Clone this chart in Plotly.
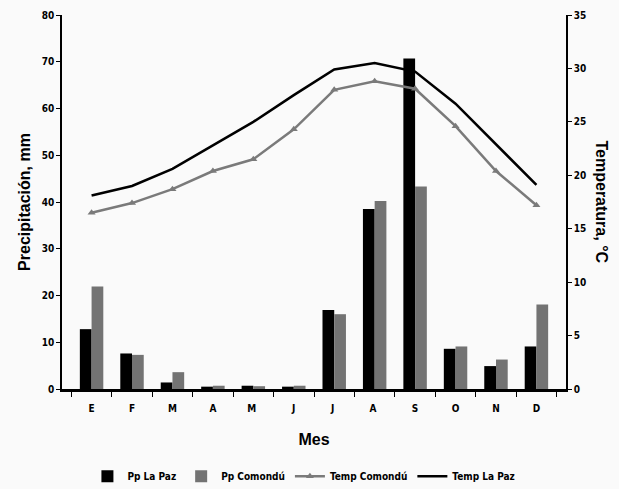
import plotly.graph_objects as go

months = ["E", "F", "M", "A", "M ", "J", "J ", "A ", "S", "O", "N", "D"]
pp_lapaz = [12.8, 7.6, 1.4, 0.5, 0.7, 0.5, 16.9, 38.5, 70.7, 8.6, 4.9, 9.1]
pp_comondu = [21.9, 7.3, 3.6, 0.7, 0.6, 0.7, 16.0, 40.2, 43.3, 9.1, 6.3, 18.1]
temp_comondu = [16.5, 17.4, 18.7, 20.4, 21.5, 24.3, 28.0, 28.8, 28.1, 24.6, 20.4, 17.2]
temp_lapaz = [18.1, 19.0, 20.6, 22.8, 25.0, 27.5, 29.9, 30.5, 29.7, 26.7, 22.9, 19.1]

narrow = "DejaVu Sans Condensed, Liberation Sans Narrow, Arial Narrow, Arial, sans-serif"
wide = "Liberation Sans, Arial, sans-serif"
tickf = dict(family=narrow, size=10, color="#000", weight="bold")

fig = go.Figure()
fig.add_trace(go.Bar(x=months, y=pp_lapaz, name="Pp La Paz", marker_color="#000000", yaxis="y"))
fig.add_trace(go.Bar(x=months, y=pp_comondu, name="Pp Comondú", marker_color="#737373", yaxis="y"))
fig.add_trace(go.Scatter(x=months, y=temp_comondu, name="Temp Comondú", mode="lines+markers",
                         line=dict(color="#7a7a7a", width=2.5),
                         marker=dict(symbol="triangle-up", size=7, color="#7a7a7a"), yaxis="y2"))
fig.add_trace(go.Scatter(x=months, y=temp_lapaz, name="Temp La Paz", mode="lines",
                         line=dict(color="#000000", width=2.5), yaxis="y2"))

fig.update_layout(
    width=619, height=489,
    margin=dict(l=62, r=53, t=15, b=100, autoexpand=False),
    paper_bgcolor="#fafafa", plot_bgcolor="#fafafa",
    barmode="group", bargap=0.42, bargroupgap=0,
    font=dict(family=narrow, size=11, color="#000"),
    showlegend=True,
    legend=dict(orientation="h", x=0.48, xanchor="center", y=-0.233, yanchor="middle",
                font=dict(family=narrow, size=10, color="#000", weight="bold"), itemwidth=30,
                bgcolor="rgba(0,0,0,0)", tracegroupgap=0),
    xaxis=dict(type="category", showline=True, linecolor="#000", linewidth=2.5,
               ticks="outside", tickson="boundaries", ticklen=5, tickcolor="#000",
               showgrid=False, zeroline=False, automargin=False,
               tickfont=tickf, ticklabelstandoff=8,
               title=dict(text="<b>Mes</b>", font=dict(family=wide, size=16, color="#000"), standoff=22)),
    yaxis=dict(range=[0, 80], dtick=10, showline=True, linecolor="#000", linewidth=1.5,
               ticks="outside", ticklen=4, tickcolor="#000", showgrid=False, zeroline=False,
               automargin=False, tickfont=tickf,
               title=dict(text="<b>Precipitación, mm</b>", font=dict(family=wide, size=16, color="#000"), standoff=7)),
    yaxis2=dict(range=[0, 35], dtick=5, overlaying="y", side="right", showline=True,
                linecolor="#000", linewidth=1.5, ticks="outside", ticklen=4, tickcolor="#000",
                showgrid=False, zeroline=False, automargin=False, tickfont=tickf),
    annotations=[dict(text="<b>Temperatura, °C</b>", textangle=90, xref="paper", yref="paper",
                      x=1.0, xshift=46, y=0.5, showarrow=False,
                      font=dict(family=wide, size=16, color="#000"))],
)
fig.update_traces(selector=dict(type="bar"), marker_line_width=0)

fig.write_html("out.html", config={"displayModeBar": False},
               post_script="document.body.style.margin='0';document.body.style.background='#fafafa';")
